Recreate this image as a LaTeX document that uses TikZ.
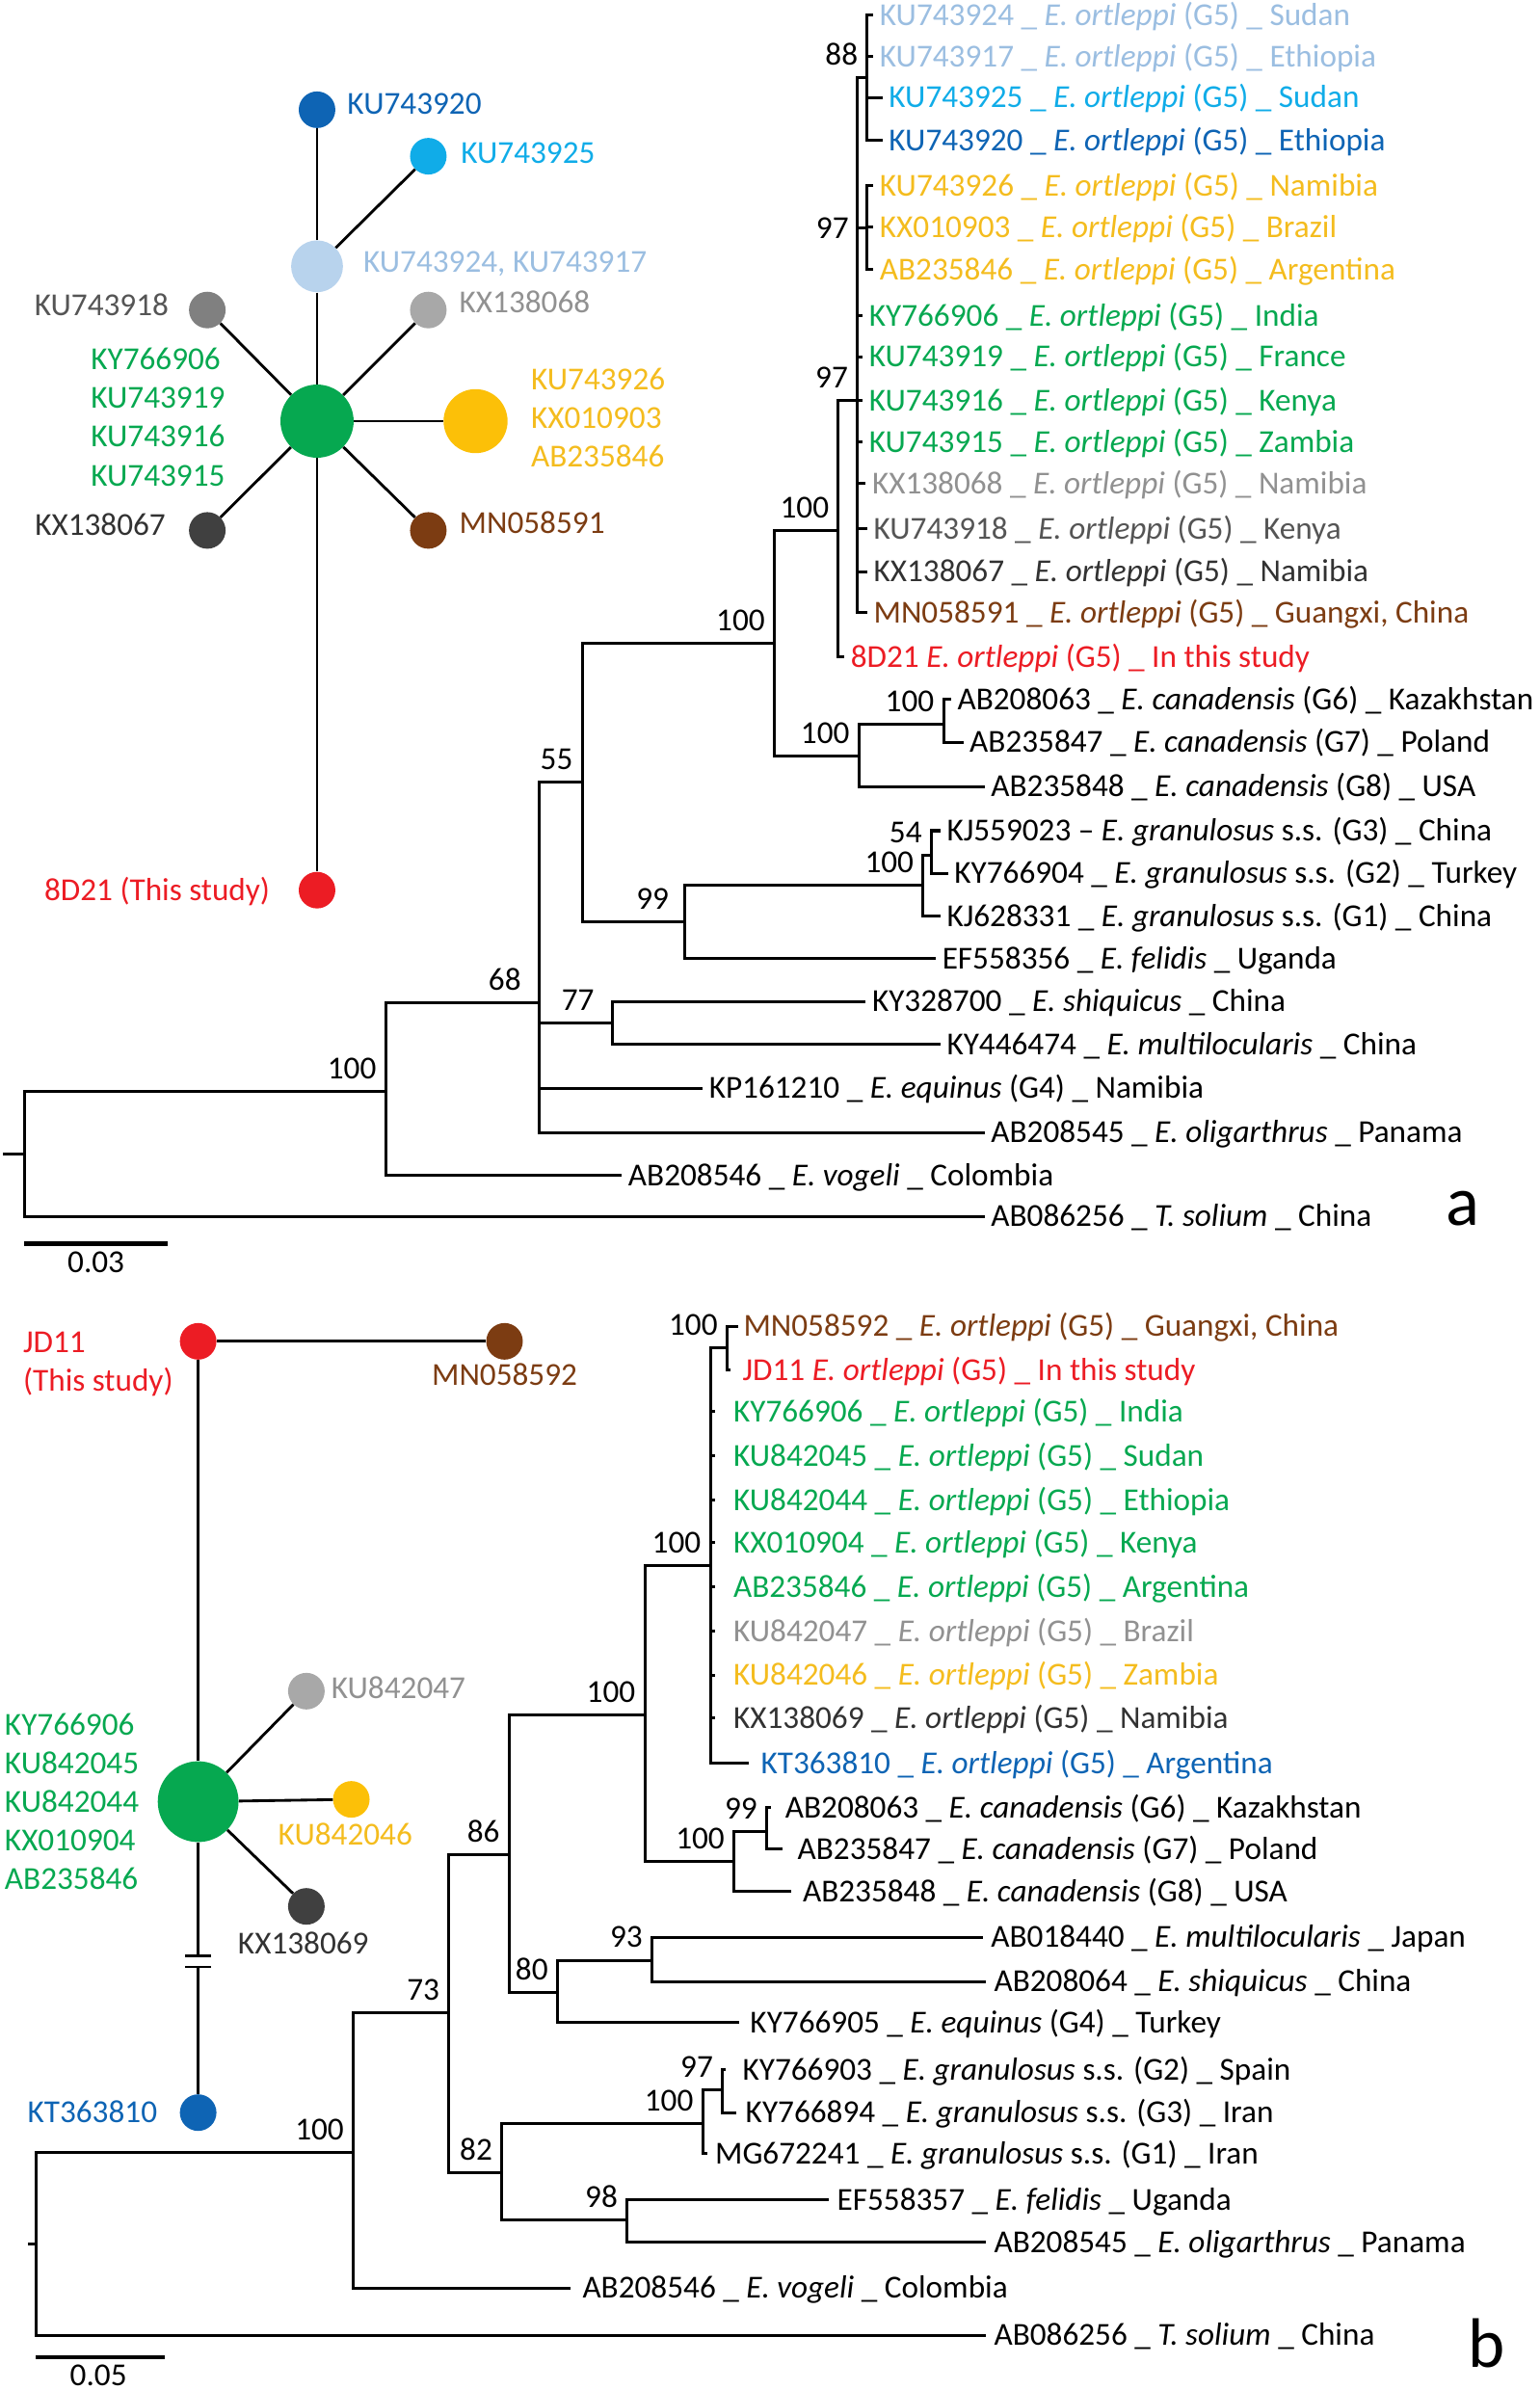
\documentclass[tikz,border=0pt]{standalone}
\usepackage{fontspec}
\setmainfont{Carlito}
\usetikzlibrary{positioning}

\definecolor{verdeh}{RGB}{6,168,80}
\definecolor{rojoh}{RGB}{236,28,36}
\definecolor{marronh}{RGB}{124,60,18}
\definecolor{amarilloh}{RGB}{252,192,8}
\definecolor{amarillot}{RGB}{244,188,30}
\definecolor{azulh}{RGB}{14,100,180}
\definecolor{celesteh}{RGB}{16,172,232}
\definecolor{palidoh}{RGB}{184,211,237}
\definecolor{palidot}{RGB}{155,190,225}
\definecolor{grisclaroh}{RGB}{168,168,168}
\definecolor{grisclarot}{RGB}{145,145,145}
\definecolor{grismedioh}{RGB}{128,128,128}
\definecolor{grismediot}{RGB}{85,85,85}
\definecolor{grisoscuroh}{RGB}{64,64,64}
\definecolor{grisoscurot}{RGB}{50,50,50}

\newcommand{\etq}{\fontsize{21}{25.3}\selectfont}

\begin{document}
\begin{tikzpicture}[x=1pt,y=-1pt,
    rama/.style={line width=1.9pt},
    enlace/.style={line width=1.8pt},
    escala/.style={line width=2.8pt},
    hoja/.style={anchor=west,inner xsep=4pt,inner ysep=0pt,text height=13.5pt,text depth=0pt,font=\etq},
    boot/.style={anchor=east,inner sep=0pt,xshift=-6pt,yshift=15pt,text height=13.5pt,text depth=0pt,font=\etq},
    hap/.style={circle,inner sep=0pt,minimum size=24pt},
    rotulo/.style={inner sep=0pt,text height=13.5pt,text depth=0pt,font=\etq},
    rotulos/.style={inner sep=0pt,align=left,font=\etq},
    panel/.style={inner sep=0pt,font=\fontsize{46}{50}\selectfont}]
  \useasboundingbox (0,0) rectangle (1010,1568);

  % ---------- red de haplotipos (a)
  \node[hap,fill=azulh] (h920) at (208,72) {};
  \node[hap,fill=celesteh] (h925) at (281,102.5) {};
  \node[hap,fill=palidoh,minimum size=34pt] (hpal) at (208,174.7) {};
  \node[hap,fill=grismedioh] (h918) at (136,203.4) {};
  \node[hap,fill=grisclaroh] (h068) at (281,203.4) {};
  \node[hap,fill=verdeh,minimum size=48pt] (hver) at (208,276.3) {};
  \node[hap,fill=amarilloh,minimum size=42pt] (hama) at (312,276.3) {};
  \node[hap,fill=grisoscuroh] (h067) at (136,348) {};
  \node[hap,fill=marronh] (h591) at (281,348) {};
  \node[hap,fill=rojoh] (h8d) at (208,584) {};
  \draw[enlace] (h920) -- (hpal) -- (hver) -- (h8d);
  \draw[enlace] (h925) -- (hpal);
  \draw[enlace] (hver) -- (h918);
  \draw[enlace] (hver) -- (h068);
  \draw[enlace] (hver) -- (hama);
  \draw[enlace] (hver) -- (h067);
  \draw[enlace] (hver) -- (h591);
  \node[rotulo,text=azulh,right=7.5pt of h920,yshift=4pt] (t920) {KU743920};
  \node[rotulo,text=celesteh,right=9pt of h925,yshift=2pt] (t925) {KU743925};
  \node[rotulo,text=palidot,right=13pt of hpal,yshift=2.7pt] (tpal) {KU743924, KU743917};
  \node[rotulo,text=grismediot,left=13pt of h918,yshift=3pt] (t918) {KU743918};
  \node[rotulo,text=grisclarot,right=8pt of h068,yshift=5pt] (t068) {KX138068};
  \node[rotulos,text=verdeh,left=36pt of hver,yshift=2.6pt] (tver) {KY766906\\KU743919\\KU743916\\KU743915};
  \node[rotulos,text=amarillot,right=15pt of hama,yshift=2pt] (tama) {KU743926\\KX010903\\AB235846};
  \node[rotulo,text=grisoscurot,left=15pt of h067,yshift=3.5pt] (t067) {KX138067};
  \node[rotulo,text=marronh,right=8pt of h591,yshift=4.7pt] (t591) {MN058591};
  \node[rotulo,text=rojoh,left=18.5pt of h8d] (t8d) {8D21 (This study)};

  % ---------- arbol (a)
  \coordinate (a88) at (569,51);
  \coordinate (aama) at (569,149.5);
  \coordinate (aorte) at (562.5,263);
  \coordinate (acien) at (550,348);
  \coordinate (agrupo) at (508,422);
  \coordinate (acan) at (563.5,496);
  \coordinate (acan2) at (619,475);
  \coordinate (a55) at (382,513);
  \coordinate (a99) at (449,604.5);
  \coordinate (agra) at (605.6,581);
  \coordinate (a54) at (611,561);
  \coordinate (a77) at (402,671);
  \coordinate (a68) at (354,658);
  \coordinate (aeq) at (253,716);
  \coordinate (araiz) at (16,757);
  \coordinate (aini) at (2,757);

  \node[hoja,text=palidot] (a1) at (573,10) {KU743924 \_ \textit{E. ortleppi} (G5) \_ Sudan};
  \node[hoja,text=palidot] (a2) at (573,37) {KU743917 \_ \textit{E. ortleppi} (G5) \_ Ethiopia};
  \node[hoja,text=celesteh] (a3) at (579,64) {KU743925 \_ \textit{E. ortleppi} (G5) \_ Sudan};
  \node[hoja,text=azulh] (a4) at (579,92) {KU743920 \_ \textit{E. ortleppi} (G5) \_ Ethiopia};
  \node[hoja,text=amarillot] (a5) at (573,122) {KU743926 \_ \textit{E. ortleppi} (G5) \_ Namibia};
  \node[hoja,text=amarillot] (a6) at (573,149) {KX010903 \_ \textit{E. ortleppi} (G5) \_ Brazil};
  \node[hoja,text=amarillot] (a7) at (573,177) {AB235846 \_ \textit{E. ortleppi} (G5) \_ Argentina};
  \node[hoja,text=verdeh] (a8) at (566,207) {KY766906 \_ \textit{E. ortleppi} (G5) \_ India};
  \node[hoja,text=verdeh] (a9) at (566,234) {KU743919 \_ \textit{E. ortleppi} (G5) \_ France};
  \node[hoja,text=verdeh] (a10) at (566,263) {KU743916 \_ \textit{E. ortleppi} (G5) \_ Kenya};
  \node[hoja,text=verdeh] (a11) at (566,290) {KU743915 \_ \textit{E. ortleppi} (G5) \_ Zambia};
  \node[hoja,text=grisclarot] (a12) at (568,317) {KX138068 \_ \textit{E. ortleppi} (G5) \_ Namibia};
  \node[hoja,text=grismediot] (a13) at (569,347) {KU743918 \_ \textit{E. ortleppi} (G5) \_ Kenya};
  \node[hoja,text=grisoscurot] (a14) at (569,375) {KX138067 \_ \textit{E. ortleppi} (G5) \_ Namibia};
  \node[hoja,text=marronh] (a15) at (569,402) {MN058591 \_ \textit{E. ortleppi} (G5) \_ Guangxi, China};
  \node[hoja,text=rojoh] (a16) at (554,431) {8D21 \textit{E. ortleppi} (G5) \_ In this study};
  \node[hoja] (a17) at (624,459) {AB208063 \_ \textit{E. canadensis} (G6) \_ Kazakhstan};
  \node[hoja] (a18) at (632,487) {AB235847 \_ \textit{E. canadensis} (G7) \_ Poland};
  \node[hoja] (a19) at (646,516) {AB235848 \_ \textit{E. canadensis} (G8) \_ USA};
  \node[hoja] (a20) at (617,545) {KJ559023 -- \textit{E. granulosus} s.s. (G3) \_ China};
  \node[hoja] (a21) at (622,573) {KY766904 \_ \textit{E. granulosus} s.s. (G2) \_ Turkey};
  \node[hoja] (a22) at (617,601) {KJ628331 \_ \textit{E. granulosus} s.s. (G1) \_ China};
  \node[hoja] (a23) at (614,629) {EF558356 \_ \textit{E. felidis} \_ Uganda};
  \node[hoja] (a24) at (568,657) {KY328700 \_ \textit{E. shiquicus} \_ China};
  \node[hoja] (a25) at (617,685) {KY446474 \_ \textit{E. multilocularis} \_ China};
  \node[hoja] (a26) at (461,714) {KP161210 \_ \textit{E. equinus} (G4) \_ Namibia};
  \node[hoja] (a27) at (646,743) {AB208545 \_ \textit{E. oligarthrus} \_ Panama};
  \node[hoja] (a28) at (408,771) {AB208546 \_ \textit{E. vogeli} \_ Colombia};
  \node[hoja] (a29) at (646,798) {AB086256 \_ \textit{T. solium} \_ China};

  \draw[rama] (a88) |- (a1.west) (a88) |- (a2.west) (a88) |- (a3.west) (a88) |- (a4.west);
  \draw[rama] (aama) |- (a5.west) (aama) |- (a6.west) (aama) |- (a7.west);
  \draw[rama] (aorte) |- (a88) (aorte) |- (aama)
    (aorte) |- (a8.west) (aorte) |- (a9.west) (aorte) |- (a10.west) (aorte) |- (a11.west)
    (aorte) |- (a12.west) (aorte) |- (a13.west) (aorte) |- (a14.west) (aorte) |- (a15.west);
  \draw[rama] (acien) |- (aorte) (acien) |- (a16.west);
  \draw[rama] (agrupo) |- (acien) (agrupo) |- (acan);
  \draw[rama] (acan2) |- (a17.west) (acan2) |- (a18.west);
  \draw[rama] (acan) |- (acan2) (acan) |- (a19.west);
  \draw[rama] (a55) |- (agrupo) (a55) |- (a99);
  \draw[rama] (a54) |- (a20.west) (a54) |- (a21.west);
  \draw[rama] (agra) |- (a54) (agra) |- (a22.west);
  \draw[rama] (a99) |- (agra) (a99) |- (a23.west);
  \draw[rama] (a77) |- (a24.west) (a77) |- (a25.west);
  \draw[rama] (a68) |- (a55) (a68) |- (a77) (a68) |- (a26.west) (a68) |- (a27.west);
  \draw[rama] (aeq) |- (a68) (aeq) |- (a28.west);
  \draw[rama] (araiz) |- (aeq) (araiz) |- (a29.west);
  \draw[rama] (aini) -- (araiz);

  \node[boot] (s88) at (a88) {88};
  \node[boot,xshift=-6pt,yshift=-15pt] (s97a) at (aama) {97};
  \node[boot] (s97b) at (aorte) {97};
  \node[boot] (s100a) at (acien) {100};
  \node[boot] (s100b) at (agrupo) {100};
  \node[boot] (s100c) at (acan2) {100};
  \node[boot] (s100d) at (acan) {100};
  \node[boot] (s55) at (a55) {55};
  \node[boot] (s54) at (a54) {54};
  \node[boot] (s100e) at (agra) {100};
  \node[boot,xshift=-4pt] (s99) at (a99) {99};
  \node[boot,xshift=-6pt] (s77) at (a77) {77};
  \node[boot,xshift=-6pt] (s68) at (a68) {68};
  \node[boot] (s100f) at (aeq) {100};

  \coordinate (ea0) at (16,816);
  \coordinate (ea1) at (110,816);
  \draw[escala] (ea0) -- (ea1);
  \node[rotulo,below=5pt of ea0,xshift=47pt] (ea) {0.03};
  \node[panel] (pa) at (960,793) {a};

  % ---------- red de haplotipos (b)
  \node[hap,fill=rojoh] (hjd) at (130,880) {};
  \node[hap,fill=marronh] (hmn) at (331,880) {};
  \node[hap,fill=verdeh,minimum size=53pt] (hverb) at (130,1182) {};
  \node[hap,fill=grisclaroh] (h047) at (201,1109.5) {};
  \node[hap,fill=amarilloh] (h046) at (230.5,1180.5) {};
  \node[hap,fill=grisoscuroh] (h069) at (201,1250.7) {};
  \node[hap,fill=azulh] (hkt) at (130,1386) {};
  \coordinate (corte1) at (130,1283.3);
  \coordinate (corte2) at (130,1290.4);
  \draw[enlace] (hjd) -- (hmn);
  \draw[enlace] (hjd) -- (hverb);
  \draw[enlace] (hverb) -- (h047);
  \draw[enlace] (hverb) -- (h046);
  \draw[enlace] (hverb) -- (h069);
  \draw[enlace] (hverb) -- (corte1);
  \draw[enlace] (corte2) -- (hkt);
  \draw[enlace] ([xshift=-8.5pt]corte1) -- ([xshift=8.5pt]corte1);
  \draw[enlace] ([xshift=-8.5pt]corte2) -- ([xshift=8.5pt]corte2);
  \node[rotulos,text=rojoh,left=4pt of hjd,yshift=-15pt] (tjd) {JD11\\(This study)};
  \node[rotulo,text=marronh,below=3pt of hmn] (tmn) {MN058592};
  \node[rotulos,text=verdeh,left=12pt of hverb] (tverb) {KY766906\\KU842045\\KU842044\\KX010904\\AB235846};
  \node[rotulo,text=grisclarot,right=4pt of h047,yshift=2pt] (t047) {KU842047};
  \node[rotulo,text=amarillot,below=4pt of h046,xshift=-4pt] (t046) {KU842046};
  \node[rotulo,text=grisoscurot,below=5.5pt of h069,xshift=-2pt] (t069) {KX138069};
  \node[rotulo,text=azulh,left=14.5pt of hkt] (tkt) {KT363810};

  % ---------- arbol (b)
  \coordinate (b100t) at (477,884.5);
  \coordinate (borte) at (466,1027);
  \coordinate (bcien) at (423,1125);
  \coordinate (bcan) at (481.5,1221.5);
  \coordinate (bcan2) at (503,1201.6);
  \coordinate (b86) at (334,1217);
  \coordinate (b80) at (365.7,1307);
  \coordinate (b93) at (427.8,1286);
  \coordinate (b73) at (294.5,1320.6);
  \coordinate (b82) at (329.2,1425.6);
  \coordinate (bgra) at (461,1393);
  \coordinate (b97) at (474,1371);
  \coordinate (b98) at (411.4,1456.7);
  \coordinate (beq) at (231.8,1412.3);
  \coordinate (braiz) at (23.6,1472.4);
  \coordinate (bini) at (18.5,1472.4);

  \node[hoja,inner xsep=3pt,text=marronh] (b1) at (484.6,870) {MN058592 \_ \textit{E. ortleppi} (G5) \_ Guangxi, China};
  \node[hoja,inner xsep=8pt,text=rojoh] (b2) at (479,899) {JD11 \textit{E. ortleppi} (G5) \_ In this study};
  \node[hoja,inner xsep=12pt,text=verdeh] (b3) at (469,926) {KY766906 \_ \textit{E. ortleppi} (G5) \_ India};
  \node[hoja,inner xsep=12pt,text=verdeh] (b4) at (469,955) {KU842045 \_ \textit{E. ortleppi} (G5) \_ Sudan};
  \node[hoja,inner xsep=12pt,text=verdeh] (b5) at (469,984) {KU842044 \_ \textit{E. ortleppi} (G5) \_ Ethiopia};
  \node[hoja,inner xsep=12pt,text=verdeh] (b6) at (469,1012) {KX010904 \_ \textit{E. ortleppi} (G5) \_ Kenya};
  \node[hoja,inner xsep=12pt,text=verdeh] (b7) at (469,1041) {AB235846 \_ \textit{E. ortleppi} (G5) \_ Argentina};
  \node[hoja,inner xsep=12pt,text=grisclarot] (b8) at (469,1070) {KU842047 \_ \textit{E. ortleppi} (G5) \_ Brazil};
  \node[hoja,inner xsep=12pt,text=amarillot] (b9) at (469,1099) {KU842046 \_ \textit{E. ortleppi} (G5) \_ Zambia};
  \node[hoja,inner xsep=12pt,text=grisoscurot] (b10) at (469,1127) {KX138069 \_ \textit{E. ortleppi} (G5) \_ Namibia};
  \node[hoja,inner xsep=8pt,text=azulh] (b11) at (491,1157) {KT363810 \_ \textit{E. ortleppi} (G5) \_ Argentina};
  \node[hoja,inner xsep=9pt] (b12) at (506,1186) {AB208063 \_ \textit{E. canadensis} (G6) \_ Kazakhstan};
  \node[hoja,inner xsep=9.5pt] (b13) at (513.6,1213) {AB235847 \_ \textit{E. canadensis} (G7) \_ Poland};
  \node[hoja,inner xsep=7.5pt] (b14) at (519,1241) {AB235848 \_ \textit{E. canadensis} (G8) \_ USA};
  \node[hoja,inner xsep=5pt] (b15) at (645,1271) {AB018440 \_ \textit{E. multilocularis} \_ Japan};
  \node[hoja,inner xsep=5pt] (b16) at (647,1300) {AB208064 \_ \textit{E. shiquicus} \_ China};
  \node[hoja,inner xsep=7pt] (b17) at (485,1327) {KY766905 \_ \textit{E. equinus} (G4) \_ Turkey};
  \node[hoja,inner xsep=11pt] (b18) at (476,1358) {KY766903 \_ \textit{E. granulosus} s.s. (G2) \_ Spain};
  \node[hoja,inner xsep=6pt] (b19) at (483,1386) {KY766894 \_ \textit{E. granulosus} s.s. (G3) \_ Iran};
  \node[hoja,inner xsep=5pt] (b20) at (464,1413) {MG672241 \_ \textit{E. granulosus} s.s. (G1) \_ Iran};
  \node[hoja,inner xsep=5pt] (b21) at (544,1443) {EF558357 \_ \textit{E. felidis} \_ Uganda};
  \node[hoja,inner xsep=5pt] (b22) at (647,1471) {AB208545 \_ \textit{E. oligarthrus} \_ Panama};
  \node[hoja,inner xsep=7.5pt] (b23) at (374.5,1501) {AB208546 \_ \textit{E. vogeli} \_ Colombia};
  \node[hoja,inner xsep=5pt] (b24) at (647,1532) {AB086256 \_ \textit{T. solium} \_ China};

  \draw[rama] (b100t) |- (b1.west) (b100t) |- (b2.west);
  \draw[rama] (borte) |- (b100t)
    (borte) |- (b3.west) (borte) |- (b4.west) (borte) |- (b5.west) (borte) |- (b6.west)
    (borte) |- (b7.west) (borte) |- (b8.west) (borte) |- (b9.west) (borte) |- (b10.west)
    (borte) |- (b11.west);
  \draw[rama] (bcien) |- (borte) (bcien) |- (bcan);
  \draw[rama] (bcan2) |- (b12.west) (bcan2) |- (b13.west);
  \draw[rama] (bcan) |- (bcan2) (bcan) |- (b14.west);
  \draw[rama] (b86) |- (bcien) (b86) |- (b80);
  \draw[rama] (b93) |- (b15.west) (b93) |- (b16.west);
  \draw[rama] (b80) |- (b93) (b80) |- (b17.west);
  \draw[rama] (b97) |- (b18.west) (b97) |- (b19.west);
  \draw[rama] (bgra) |- (b97) (bgra) |- (b20.west);
  \draw[rama] (b98) |- (b21.west) (b98) |- (b22.west);
  \draw[rama] (b82) |- (bgra) (b82) |- (b98);
  \draw[rama] (b73) |- (b86) (b73) |- (b82);
  \draw[rama] (beq) |- (b73) (beq) |- (b23.west);
  \draw[rama] (braiz) |- (beq) (braiz) |- (b24.west);
  \draw[rama] (bini) -- (braiz);

  \node[boot] (t100a) at (b100t) {100};
  \node[boot] (t100b) at (borte) {100};
  \node[boot] (t100c) at (bcien) {100};
  \node[boot] (t99) at (bcan2) {99};
  \node[boot] (t100d) at (bcan) {100};
  \node[boot] (t86) at (b86) {86};
  \node[boot] (t93) at (b93) {93};
  \node[boot] (t80) at (b80) {80};
  \node[boot] (t73) at (b73) {73};
  \node[boot] (t97) at (b97) {97};
  \node[boot] (t100e) at (bgra) {100};
  \node[boot] (t82) at (b82) {82};
  \node[boot] (t98) at (b98) {98};
  \node[boot] (t100f) at (beq) {100};

  \coordinate (eb0) at (23.6,1546.6);
  \coordinate (eb1) at (108,1546.6);
  \draw[escala] (eb0) -- (eb1);
  \node[rotulo,below=5pt of eb0,xshift=41pt] (eb) {0.05};
  \node[panel] (pb) at (975,1537) {b};
\end{tikzpicture}
\end{document}
